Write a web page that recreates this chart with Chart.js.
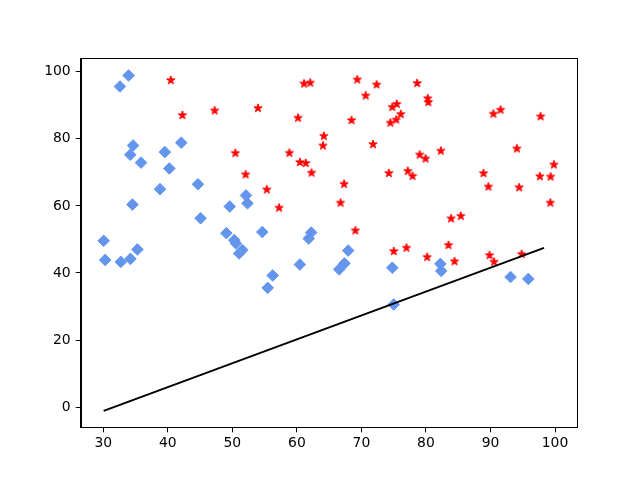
<!DOCTYPE html>
<html>
<head>
<meta charset="utf-8">
<script src="https://cdn.jsdelivr.net/npm/chart.js"></script>
<style>
  html, body { margin: 0; padding: 0; background: #fff; }
  #wrap { width: 640px; height: 480px; }
</style>
</head>
<body>
<div id="wrap"><canvas id="chart" width="640" height="480"></canvas></div>
<script>
// admitted (red stars)
const admittedX = [60.18, 79.03, 61.11, 75.02, 76.10, 84.43, 82.31, 69.36, 53.97, 69.07,
  70.66, 76.98, 89.68, 77.92, 62.27, 80.19, 61.38, 85.40, 52.05, 64.18,
  83.90, 94.44, 77.19, 97.77, 62.07, 91.56, 79.94, 99.27, 90.55, 97.65,
  74.25, 71.80, 75.40, 40.46, 80.28, 66.75, 64.04, 72.35, 60.46, 58.84,
  99.83, 47.26, 50.46, 88.91, 94.83, 67.32, 57.24, 80.37, 68.47, 75.48,
  78.64, 94.09, 90.45, 74.49, 89.85, 83.49, 42.26, 99.32, 55.34, 74.78];
const admittedY = [86.31, 75.34, 96.51, 46.55, 87.42, 43.53, 76.48, 97.72, 89.21, 52.74,
  92.93, 47.58, 65.80, 68.97, 69.95, 44.82, 72.81, 57.05, 69.43, 80.91,
  56.31, 65.57, 70.46, 86.73, 96.77, 88.70, 74.16, 61.00, 43.39, 68.86,
  69.82, 78.45, 85.76, 97.54, 92.12, 60.99, 78.03, 96.23, 73.09, 75.86,
  72.37, 88.48, 75.81, 69.80, 45.69, 66.59, 59.51, 90.96, 85.59, 90.42,
  96.65, 77.16, 87.51, 84.85, 45.36, 48.38, 87.10, 68.78, 64.93, 89.53];

// not admitted (blue diamonds)
const rejectedX = [34.62, 30.29, 35.85, 45.08, 95.86, 75.01, 39.54, 67.95, 67.37, 50.53,
  34.21, 93.11, 61.83, 38.79, 52.11, 40.24, 54.64, 33.92, 74.79, 34.18,
  51.55, 82.37, 51.05, 62.22, 34.52, 50.29, 49.59, 32.58, 35.29, 56.25,
  30.06, 44.67, 66.56, 49.07, 32.72, 60.46, 82.23, 42.08, 52.35, 55.48];
const rejectedY = [78.02, 43.89, 72.90, 56.32, 38.23, 30.60, 76.04, 46.68, 42.84, 48.86,
  44.21, 38.80, 50.26, 65.00, 63.13, 71.17, 52.21, 98.87, 41.57, 75.24,
  46.86, 40.62, 45.82, 52.06, 60.40, 49.80, 59.81, 95.60, 47.02, 39.26,
  49.59, 66.45, 41.09, 51.88, 43.31, 42.51, 42.72, 78.84, 60.77, 35.57];

// decision line end points
const lineX = [30.06, 98.3];
const lineY = [-1.1, 47.5];

const xTicks = [30, 40, 50, 60, 70, 80, 90, 100];
const yTicks = [0, 20, 40, 60, 80, 100];

function pts(xs, ys) {
  return xs.map((x, i) => ({ x: x, y: ys[i] }));
}

// filled five point star like matplotlib's '*'
function makeStar(color) {
  const c = document.createElement('canvas');
  c.width = 12; c.height = 12;
  const g = c.getContext('2d');
  const R = 4.4, r = R * 0.381966, cx = 6, cy = 6.3;
  g.beginPath();
  for (let i = 0; i < 10; i++) {
    const a = -Math.PI / 2 + i * Math.PI / 5;
    const rad = i % 2 === 0 ? R : r;
    const px = cx + rad * Math.cos(a), py = cy + rad * Math.sin(a);
    if (i === 0) g.moveTo(px, py); else g.lineTo(px, py);
  }
  g.closePath();
  g.fillStyle = color;
  g.strokeStyle = color;
  g.lineWidth = 1;
  g.fill();
  g.stroke();
  return c;
}

const frame = {
  id: 'frame',
  afterDraw(chart) {
    const a = chart.chartArea, ctx = chart.ctx;
    ctx.save();
    ctx.strokeStyle = '#000';
    ctx.lineWidth = 1;
    ctx.strokeRect(Math.round(a.left) + 0.5, Math.round(a.top) + 0.5,
      Math.round(a.right - a.left), Math.round(a.bottom - a.top));
    ctx.restore();
  }
};

const tickFont = { family: 'DejaVu Sans', size: 13.9 };

new Chart(document.getElementById('chart'), {
  type: 'scatter',
  data: {
    datasets: [
      {
        data: pts(lineX, lineY),
        showLine: true,
        borderColor: '#000',
        borderWidth: 2,
        pointRadius: 0,
        order: 0
      },
      {
        data: pts(admittedX, admittedY),
        pointStyle: makeStar('#ff0000'),
        order: 1
      },
      {
        data: pts(rejectedX, rejectedY),
        pointStyle: 'rectRot',
        pointRadius: 5.8,
        backgroundColor: '#6495ed',
        borderColor: '#6495ed',
        borderWidth: 1,
        order: 2
      }
    ]
  },
  options: {
    responsive: false,
    animation: false,
    layout: { padding: { top: 58.3, right: 63.7, left: 0, bottom: 0 } },
    plugins: {
      legend: { display: false },
      tooltip: { enabled: false }
    },
    scales: {
      x: {
        type: 'linear',
        min: 26.5,
        max: 103.3,
        afterBuildTicks: s => { s.ticks = xTicks.map(v => ({ value: v })); },
        afterFit: s => { s.height = 52.7; },
        ticks: { color: '#000', font: tickFont, padding: 3, maxRotation: 0 },
        grid: { drawOnChartArea: false, drawTicks: true, tickLength: 5, color: '#000' },
        border: { display: true, color: '#000', width: 1 }
      },
      y: {
        type: 'linear',
        min: -6.0,
        max: 104.0,
        afterBuildTicks: s => { s.ticks = yTicks.map(v => ({ value: v })); },
        afterFit: s => { s.width = 80.7; },
        ticks: { color: '#000', font: tickFont, padding: 5 },
        grid: { drawOnChartArea: false, drawTicks: true, tickLength: 5, color: '#000' },
        border: { display: true, color: '#000', width: 1 }
      }
    }
  },
  plugins: [frame]
});
</script>
</body>
</html>
